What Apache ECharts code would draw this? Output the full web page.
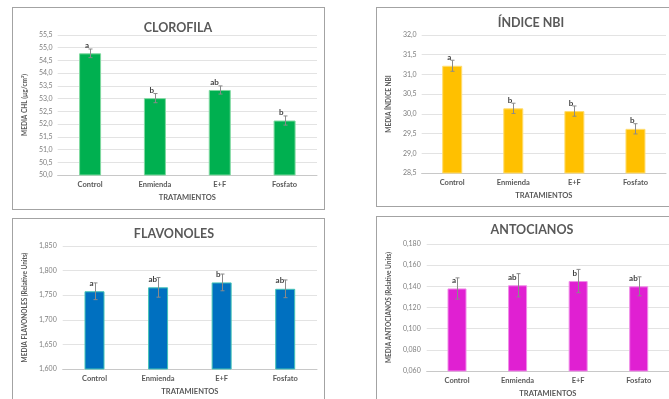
<!DOCTYPE html>
<html>
<head>
<meta charset="utf-8">
<script src="https://cdn.jsdelivr.net/npm/echarts@6/dist/echarts.min.js"></script>
<style>
html,body{margin:0;padding:0;background:#fff;width:669px;height:399px;overflow:hidden;position:relative;}
.panel{position:absolute;border:1px solid #a3a3a3;box-sizing:border-box;background:#fff;}
</style>
</head>
<body>
<div id="p1" class="panel" style="left:12px;top:7px;width:313px;height:203px;"></div>
<div id="p2" class="panel" style="left:376px;top:7px;width:310px;height:200px;"></div>
<div id="p3" class="panel" style="left:12px;top:218px;width:313px;height:200px;"></div>
<div id="p4" class="panel" style="left:376px;top:216px;width:310px;height:200px;"></div>
<script>
const categories = ['Control', 'Enmienda', 'E+F', 'Fosfato'];

const chlMean = [54.78, 53.02, 53.34, 52.14];
const chlErr = [0.17, 0.18, 0.16, 0.18];
const chlLetters = ['a', 'b', 'ab', 'b'];
const chlTicks = { min: 50, max: 55.5, interval: 0.5, decimals: 1 };

const nbiMean = [31.22, 30.14, 30.07, 29.62];
const nbiErr = [0.14, 0.13, 0.13, 0.13];
const nbiLetters = ['a', 'b', 'b', 'b'];
const nbiTicks = { min: 28.5, max: 32, interval: 0.5, decimals: 1 };

const flavMean = [1.758, 1.766, 1.776, 1.763];
const flavErr = [0.017, 0.020, 0.017, 0.018];
const flavLetters = ['a', 'ab', 'b', 'ab'];
const flavTicks = { min: 1.6, max: 1.85, interval: 0.05, decimals: 3 };

const antoMean = [0.138, 0.141, 0.145, 0.140];
const antoErr = [0.010, 0.011, 0.011, 0.009];
const antoLetters = ['a', 'ab', 'b', 'ab'];
const antoTicks = { min: 0.06, max: 0.18, interval: 0.02, decimals: 3 };

const FONT = 'Lato, "Open Sans", sans-serif';

function makeChart(id, cfg) {
  const el = document.getElementById(id);
  const chart = echarts.init(el, null, { renderer: 'canvas' });
  const errData = cfg.mean.map((m, i) => [i, m + cfg.err[i], m - cfg.err[i]]);
  chart.setOption({
    animation: false,
    textStyle: { fontFamily: FONT },
    title: {
      text: cfg.title,
      left: cfg.titleX,
      top: cfg.titleY,
      textAlign: 'center',
      textStyle: { fontFamily: FONT, fontSize: 12.5, fontWeight: 'bold', color: '#595959' }
    },
    grid: { left: cfg.grid.left, top: cfg.grid.top, width: cfg.grid.width, height: cfg.grid.height },
    xAxis: {
      type: 'category',
      data: categories,
      name: 'TRATAMIENTOS',
      nameLocation: 'middle',
      nameGap: cfg.xNameGap,
      nameTextStyle: { fontFamily: FONT, fontSize: 7.5, fontWeight: 'bold', color: '#595959' },
      axisLine: { lineStyle: { color: '#c8c8c8', width: 1 } },
      axisTick: { show: false },
      axisLabel: { fontFamily: FONT, fontSize: 7.5, fontWeight: 'bold', color: '#595959', margin: cfg.xLabelMargin }
    },
    yAxis: {
      type: 'value',
      min: cfg.ticks.min,
      max: cfg.ticks.max,
      interval: cfg.ticks.interval,
      name: cfg.yName,
      nameLocation: 'middle',
      nameRotate: 90,
      nameGap: cfg.yNameGap,
      nameTextStyle: { fontFamily: FONT, fontSize: 6.5, fontWeight: 'bold', color: '#595959' },
      axisLine: { show: false },
      axisTick: { show: false },
      splitLine: { lineStyle: { color: '#e3e3e3', width: 1 } },
      axisLabel: {
        fontFamily: FONT, fontSize: 7, color: '#7f7f7f', margin: cfg.yLabelMargin,
        formatter: v => v.toFixed(cfg.ticks.decimals).replace('.', ',')
      }
    },
    series: [
      {
        type: 'bar',
        data: cfg.mean,
        barWidth: cfg.barWidth,
        itemStyle: { color: cfg.color, borderColor: cfg.border, borderWidth: 1 },
        label: {
          show: true,
          position: 'top',
          distance: 4,
          align: 'right',
          offset: [-1, 0],
          formatter: p => cfg.letters[p.dataIndex],
          fontFamily: FONT, fontSize: 8, fontWeight: 'bold', color: '#404040'
        },
        z: 2
      },
      {
        type: 'custom',
        data: errData,
        z: 3,
        renderItem: (params, api) => {
          const hi = api.coord([api.value(0), api.value(1)]);
          const lo = api.coord([api.value(0), api.value(2)]);
          const x = Math.round(hi[0]) + 0.5;
          const c = 2;
          const st = { stroke: '#8a8a8a', lineWidth: 1 };
          return {
            type: 'group',
            children: [
              { type: 'line', shape: { x1: x, y1: hi[1], x2: x, y2: lo[1] }, style: st },
              { type: 'line', shape: { x1: x - c, y1: hi[1], x2: x + c, y2: hi[1] }, style: st },
              { type: 'line', shape: { x1: x - c, y1: lo[1], x2: x + c, y2: lo[1] }, style: st }
            ]
          };
        }
      }
    ]
  });
}

makeChart('p1', {
  title: 'CLOROFILA', titleX: 160, titleY: 8,
  grid: { left: 37, top: 27, width: 267, height: 140 },
  ticks: chlTicks, mean: chlMean, err: chlErr, letters: chlLetters,
  yName: 'MEDIA CHL (µg/cm²)', yNameGap: 19, yLabelMargin: 5,
  xNameGap: 18, xLabelMargin: 6, barWidth: 22,
  color: '#00B050', border: '#7fd9a0'
});

makeChart('p2', {
  title: 'ÍNDICE NBI', titleX: 149, titleY: 3,
  grid: { left: 38, top: 27, width: 251, height: 138 },
  ticks: nbiTicks, mean: nbiMean, err: nbiErr, letters: nbiLetters,
  yName: 'MEDIA ÍNDICE NBI', yNameGap: 23, yLabelMargin: 5,
  xNameGap: 17, xLabelMargin: 6, barWidth: 20,
  color: '#FFC000', border: '#ffdd70'
});

makeChart('p3', {
  title: 'FLAVONOLES', titleX: 156, titleY: 3,
  grid: { left: 40, top: 27, width: 264, height: 123 },
  ticks: flavTicks, mean: flavMean, err: flavErr, letters: flavLetters,
  yName: 'MEDIA FLAVONOLES (Relative Units)', yNameGap: 23, yLabelMargin: 6,
  xNameGap: 16, xLabelMargin: 6, barWidth: 20,
  color: '#0070C0', border: '#45c4b6'
});

makeChart('p4', {
  title: 'ANTOCIANOS', titleX: 150, titleY: 1,
  grid: { left: 41, top: 27, width: 251, height: 127 },
  ticks: antoTicks, mean: antoMean, err: antoErr, letters: antoLetters,
  yName: 'MEDIA ANTOCIANOS (Relative Units)', yNameGap: 27, yLabelMargin: 6,
  xNameGap: 18, xLabelMargin: 6, barWidth: 19,
  color: '#E020D2', border: '#f08ce8'
});
</script>
</body>
</html>
